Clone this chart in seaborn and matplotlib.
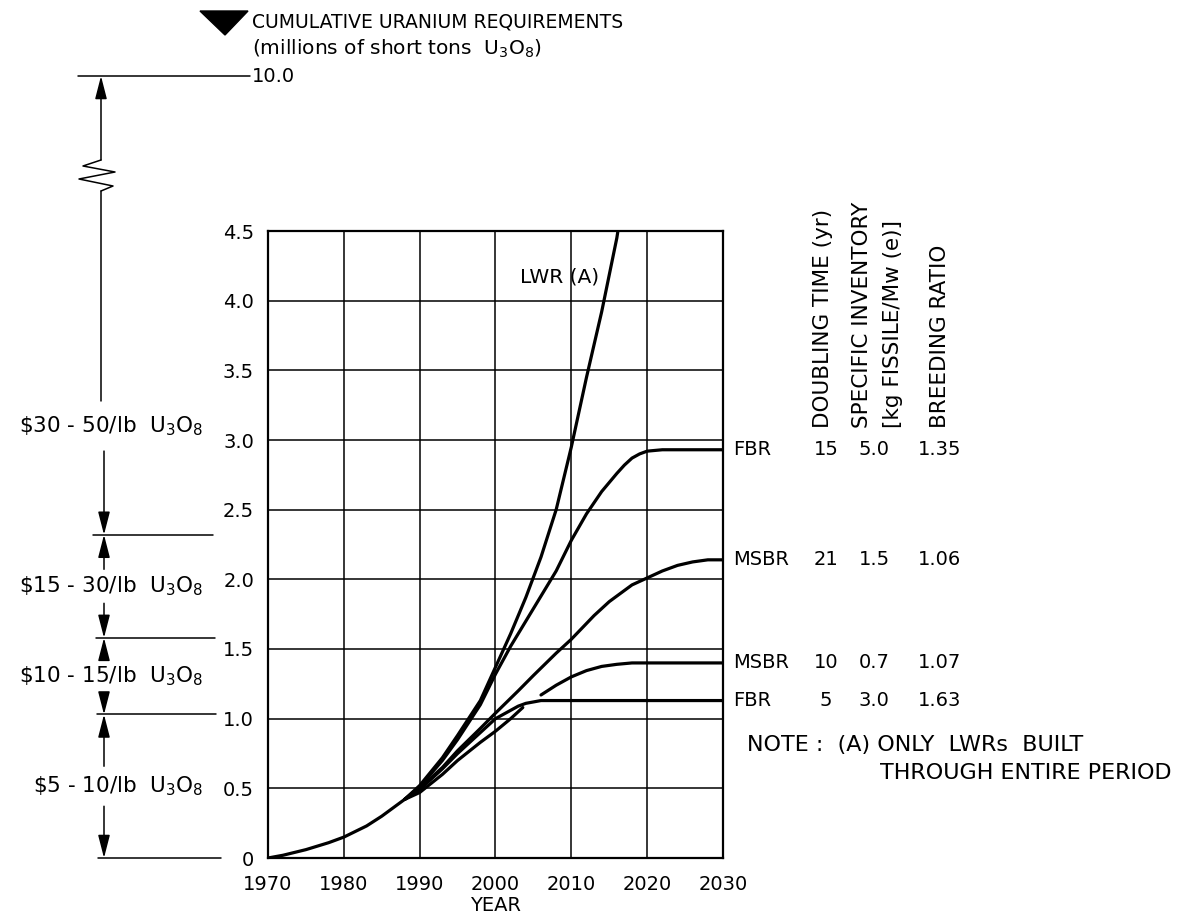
import numpy as np
import pandas as pd
import matplotlib
matplotlib.use("Agg")
import matplotlib.pyplot as plt
import matplotlib.transforms as mtransforms
from matplotlib.patches import Polygon
import seaborn as sns

# ---- cumulative U3O8 requirement curves (millions of short tons) ----
lwr_years = [1970, 1972, 1975, 1978, 1980, 1983, 1985, 1988, 1990, 1993, 1995,
             1998, 2000, 2002, 2004, 2006, 2008, 2010, 2012, 2014, 2016, 2017]
lwr_vals = [0.00, 0.02, 0.06, 0.11, 0.15, 0.23, 0.30, 0.42, 0.52, 0.72, 0.88,
            1.13, 1.37, 1.61, 1.87, 2.16, 2.50, 2.95, 3.45, 3.92, 4.45, 4.80]

fbr15_years = [1988, 1990, 1993, 1995, 1998, 2000, 2002, 2004, 2006, 2008, 2010,
               2012, 2014, 2016, 2017, 2018, 2019, 2020, 2022, 2025, 2030]
fbr15_vals = [0.42, 0.51, 0.70, 0.85, 1.10, 1.32, 1.52, 1.70, 1.88, 2.06, 2.28,
              2.47, 2.63, 2.76, 2.82, 2.87, 2.90, 2.92, 2.93, 2.93, 2.93]

msbr21_years = [1988, 1990, 1993, 1995, 1998, 2000, 2003, 2005, 2008, 2010, 2013,
                2015, 2018, 2020, 2022, 2024, 2026, 2028, 2030]
msbr21_vals = [0.42, 0.50, 0.65, 0.77, 0.93, 1.04, 1.20, 1.31, 1.47, 1.57, 1.74,
               1.84, 1.96, 2.01, 2.06, 2.10, 2.125, 2.14, 2.14]

msbr10a_years = [1988, 1990, 1993, 1995, 1998, 2000, 2002, 2003.6]
msbr10a_vals = [0.42, 0.47, 0.60, 0.70, 0.83, 0.91, 1.00, 1.08]
msbr10b_years = [2006, 2008, 2010, 2012, 2014, 2016, 2018, 2020, 2025, 2030]
msbr10b_vals = [1.17, 1.24, 1.30, 1.345, 1.375, 1.39, 1.40, 1.40, 1.40, 1.40]

fbr5_years = [1988, 1990, 1993, 1995, 1998, 2000, 2002, 2003, 2004, 2005, 2006,
              2008, 2010, 2020, 2030]
fbr5_vals = [0.42, 0.49, 0.64, 0.75, 0.90, 1.00, 1.06, 1.09, 1.11, 1.12, 1.13,
             1.13, 1.13, 1.13, 1.13]

# ---- breeder table (plateau level, name, doubling time, inventory, ratio) ----
row_levels = [2.93, 2.14, 1.40, 1.13]
row_names = ["FBR", "MSBR", "MSBR", "FBR"]
doubling_time = ["15", "21", "10", "5"]
spec_inventory = ["5.0", "1.5", "0.7", "3.0"]
breeding_ratio = ["1.35", "1.06", "1.07", "1.63"]

# ---- uranium price tiers on the cumulative-requirement scale ----
tier_breaks = [0.0, 1.03, 1.58, 2.32]
tier_labels = ["\\$5 - 10/lb  U$_3$O$_8$", "\\$10 - 15/lb  U$_3$O$_8$",
               "\\$15 - 30/lb  U$_3$O$_8$", "\\$30 - 50/lb  U$_3$O$_8$"]
top_break_label = "10.0"

x_ticks = [1970, 1980, 1990, 2000, 2010, 2020, 2030]
y_ticks = [0, 0.5, 1.0, 1.5, 2.0, 2.5, 3.0, 3.5, 4.0, 4.5]
y_tick_labels = ["0", "0.5", "1.0", "1.5", "2.0", "2.5", "3.0", "3.5", "4.0", "4.5"]

frames = []
for name, xs, ys in [("LWR", lwr_years, lwr_vals), ("FBR15", fbr15_years, fbr15_vals),
                     ("MSBR21", msbr21_years, msbr21_vals),
                     ("MSBR10a", msbr10a_years, msbr10a_vals),
                     ("MSBR10b", msbr10b_years, msbr10b_vals),
                     ("FBR5", fbr5_years, fbr5_vals)]:
    frames.append(pd.DataFrame({"year": xs, "value": ys, "curve": name}))
df = pd.concat(frames, ignore_index=True)

sns.set_theme(style="white")
plt.rcParams["font.family"] = ["DejaVu Sans"]
plt.rcParams["mathtext.fontset"] = "dejavusans"
plt.rcParams["text.color"] = "black"
plt.rcParams["axes.labelcolor"] = "black"

W, H = 1189, 921
fig = plt.figure(figsize=(W / 100, H / 100), dpi=100)
ax = fig.add_axes([268 / W, 1 - 858 / H, (723 - 268) / W, (858 - 231) / H])

sns.lineplot(data=df, x="year", y="value", units="curve", estimator=None,
             color="black", lw=2.3, ax=ax, legend=False, sort=False)

ax.set_xlim(1970, 2030)
ax.set_ylim(0, 4.5)
ax.set_xticks(x_ticks)
ax.set_yticks(y_ticks)
ax.set_yticklabels(y_tick_labels)
ax.tick_params(length=0, labelsize=14, colors="black")
ax.tick_params(axis="x", pad=12)
ax.tick_params(axis="y", pad=10)
ax.grid(True, color="black", lw=1.1)
for s in ax.spines.values():
    s.set_color("black")
    s.set_linewidth(1.6)
ax.set_xlabel("YEAR", fontsize=14, labelpad=2)
ax.set_ylabel("")

ax.text(2008.5, 4.17, "LWR (A)", fontsize=14.5, ha="center", va="center")

# blended transform: x in figure pixels, y in data units
bt = mtransforms.blended_transform_factory(
    mtransforms.Affine2D().scale(1 / W, 1 / H) + fig.transFigure, ax.transData)
ft = mtransforms.Affine2D().scale(1 / W, -1 / H).translate(0, 1) + fig.transFigure

# ---- right-hand table ----
for lvl, nm, dt, si, br in zip(row_levels, row_names, doubling_time,
                               spec_inventory, breeding_ratio):
    ax.text(733, lvl, nm, transform=bt, fontsize=14, ha="left", va="center")
    ax.text(826, lvl, dt, transform=bt, fontsize=14, ha="center", va="center")
    ax.text(874, lvl, si, transform=bt, fontsize=14, ha="center", va="center")
    ax.text(940, lvl, br, transform=bt, fontsize=14, ha="center", va="center")

headers = [(823, "DOUBLING TIME (yr)"), (862, "SPECIFIC INVENTORY"),
           (893, "[kg FISSILE/Mw (e)]"), (940, "BREEDING RATIO")]
for xh, txt in headers:
    fig.text(xh / W, 1 - 428 / H, txt, rotation=90, fontsize=15.5,
             ha="center", va="bottom")

fig.text(747 / W, 1 - 745 / H, "NOTE :  (A) ONLY  LWRs  BUILT", fontsize=16,
         ha="left", va="center")
fig.text(880 / W, 1 - 773 / H, "THROUGH ENTIRE PERIOD", fontsize=16,
         ha="left", va="center")

# ---- title with marker ----
fig.patches.append(Polygon([(200, 11), (248, 11), (225, 35)], closed=True,
                           facecolor="black", edgecolor="black", transform=ft))
fig.text(252 / W, 1 - 22 / H, "CUMULATIVE URANIUM REQUIREMENTS", fontsize=13.5,
         ha="left", va="center")
fig.text(252 / W, 1 - 49 / H, "(millions of short tons  U$_3$O$_8$)", fontsize=14.5,
         ha="left", va="center")

# ---- price-tier dimension scale on the left ----
top_pos = (858 - 76) / (858 - 231) * 4.5  # broken-axis position of the 10.0 mark
vx = 104
tx = 101
line_kw = dict(color="black", lw=1.1, clip_on=False)
arrow_kw = dict(arrowstyle="-|>,head_length=0.7,head_width=0.18",
                color="black", lw=1.1, shrinkA=0, shrinkB=0, mutation_scale=20)

# horizontal boundary lines
ax.plot([78, 250], [top_pos, top_pos], transform=bt, **line_kw)
ax.text(252, top_pos, top_break_label, transform=bt, fontsize=14,
        ha="left", va="center")
for b, x0, x1 in zip(tier_breaks, [98, 97, 96, 93], [221, 216, 215, 213]):
    ax.plot([x0, x1], [b, b], transform=bt, **line_kw)

ppu = (858 - 231) / 4.5  # pixels per data unit


def d(pix):
    return pix / ppu


label_pos = [(tier_breaks[0] + tier_breaks[1]) / 2,
             (tier_breaks[1] + tier_breaks[2]) / 2,
             (tier_breaks[2] + tier_breaks[3]) / 2, 3.10]
for lp, lab in zip(label_pos, tier_labels):
    ax.text(203, lp, lab, transform=bt, fontsize=15.5, ha="right", va="center")

gaps = [d(20), d(17), d(17), d(25)]
uppers = [tier_breaks[1], tier_breaks[2], tier_breaks[3]]
for i, lp in enumerate(label_pos):
    ax.annotate("", xy=(vx, tier_breaks[i]), xycoords=bt,
                xytext=(vx, lp - gaps[i]), textcoords=bt,
                arrowprops=arrow_kw, annotation_clip=False)
    if i < 3:
        ax.annotate("", xy=(vx, uppers[i]), xycoords=bt,
                    xytext=(vx, lp + gaps[i]), textcoords=bt,
                    arrowprops=arrow_kw, annotation_clip=False)

# top segment with break symbol
ax.annotate("", xy=(tx, top_pos), xycoords=bt, xytext=(tx, d(858 - 160)),
            textcoords=bt, arrowprops=arrow_kw, annotation_clip=False)
zig_x = [tx, tx - 18, tx + 14, tx - 22, tx + 12, tx]
zig_y = [160, 166, 172, 179, 186, 191]
ax.plot(zig_x, [d(858 - y) for y in zig_y], transform=bt, **line_kw)
ax.plot([tx, tx], [d(858 - 191), label_pos[3] + gaps[3]], transform=bt, **line_kw)

fig.savefig("out.png", dpi=100, facecolor="white")
